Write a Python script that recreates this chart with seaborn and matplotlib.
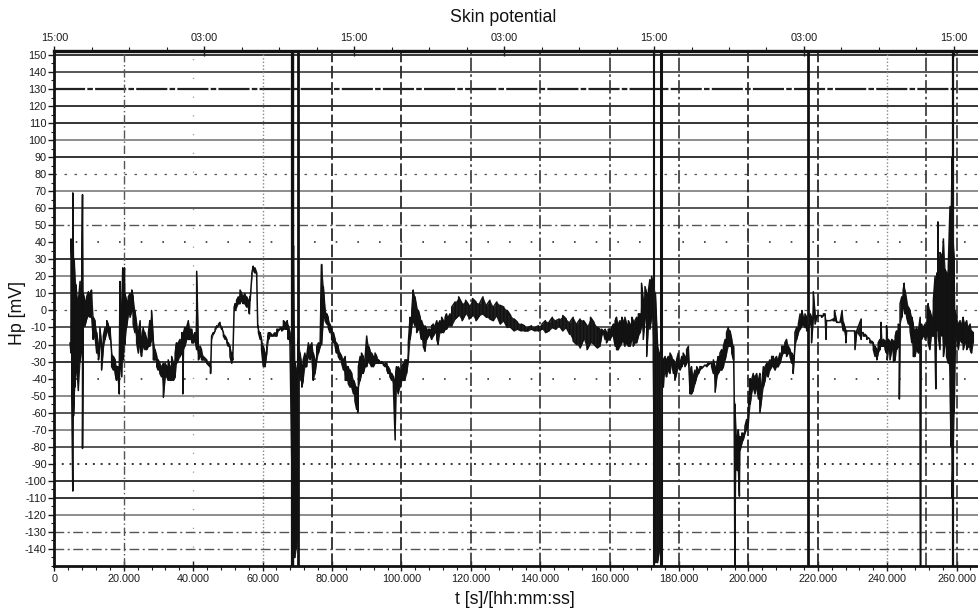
import numpy as np
import pandas as pd
import matplotlib
matplotlib.use("Agg")
import matplotlib.pyplot as plt
from matplotlib.ticker import MultipleLocator
import seaborn as sns

sns.set_style("white")
plt.rcParams["font.family"] = ["Liberation Sans", "DejaVu Sans"]

# Skin potential recording: sample time (ks) with the upper and lower
# excursion of the fast fluctuations around that time (mV)
t_ks = [
    4.5, 4.8, 5.0, 5.3, 5.5, 5.7, 5.9, 6.2, 6.4, 6.9,
    7.4, 7.9, 8.1, 8.3, 8.8, 9.3, 9.8, 10.3, 10.7, 11.2,
    11.7, 12.2, 12.7, 13.1, 13.6, 14.1, 14.6, 15.1, 15.5, 16.0,
    16.5, 17.0, 17.5, 17.9, 18.4, 18.7, 18.9, 19.4, 19.7, 19.9,
    20.2, 20.3, 20.8, 21.3, 21.8, 22.3, 22.7, 23.2, 23.7, 24.2,
    24.7, 25.1, 25.6, 26.1, 26.6, 27.1, 27.5, 28.0, 28.5, 29.0,
    29.5, 29.9, 30.4, 30.9, 31.4, 31.9, 32.4, 32.8, 33.3, 33.8,
    34.3, 34.8, 35.2, 35.7, 36.2, 36.7, 37.0, 37.2, 37.6, 38.1,
    38.6, 39.1, 39.6, 40.1, 40.5, 41.0, 41.5, 42.0, 42.4, 42.9,
    43.9, 44.8, 45.0, 45.3, 45.8, 46.3, 46.8, 47.3, 47.7, 48.2,
    48.7, 49.2, 49.7, 50.1, 50.6, 51.1, 51.4, 51.8, 52.1, 52.5,
    53.0, 53.5, 54.0, 54.4, 54.9, 55.4, 55.9, 56.2, 56.4, 56.9,
    57.3, 57.8, 58.3, 58.6, 58.8, 59.3, 59.7, 60.2, 60.7, 61.2,
    61.7, 62.1, 62.6, 63.1, 63.6, 64.1, 64.5, 65.0, 65.5, 66.0,
    66.5, 67.0, 67.1, 67.4, 67.9, 68.5, 68.9, 69.3, 69.7, 70.1,
    70.3, 70.8, 71.3, 71.7, 72.2, 72.7, 73.2, 73.7, 74.2, 74.6,
    75.1, 75.6, 76.1, 76.6, 77.0, 77.5, 78.0, 78.5, 78.9, 79.4,
    79.9, 80.4, 80.9, 81.3, 81.8, 82.3, 82.8, 83.3, 83.8, 84.2,
    84.7, 85.2, 85.7, 86.2, 86.6, 87.1, 87.4, 87.6, 88.1, 88.5,
    89.0, 89.5, 90.0, 90.5, 90.9, 91.4, 91.9, 92.4, 92.9, 93.4,
    93.8, 94.3, 94.8, 95.3, 95.8, 96.2, 96.7, 97.2, 97.7, 98.2,
    98.6, 99.1, 99.6, 100.1, 100.6, 101.0, 101.5, 102.0, 102.5, 103.0,
    103.4, 103.9, 104.4, 104.9, 105.4, 105.8, 106.3, 106.8, 107.3, 107.8,
    108.2, 108.7, 109.2, 109.7, 110.2, 110.6, 111.1, 111.6, 112.1, 112.6,
    113.0, 113.5, 114.0, 114.5, 115.5, 116.5, 117.5, 118.5, 119.5, 120.5,
    121.5, 122.5, 123.5, 124.5, 125.5, 126.5, 127.5, 128.5, 129.5, 130.5,
    131.5, 132.5, 133.5, 134.5, 135.5, 136.5, 137.5, 138.5, 139.5, 140.5,
    141.5, 142.5, 143.5, 144.5, 145.5, 146.5, 147.5, 148.5, 149.5, 150.5,
    151.5, 152.5, 153.5, 154.5, 155.5, 156.5, 157.2, 157.7, 158.2, 158.7,
    159.1, 159.6, 160.1, 160.6, 161.1, 161.6, 162.0, 162.5, 163.0, 163.5,
    163.9, 164.4, 164.9, 165.4, 165.9, 166.4, 166.8, 167.3, 167.8, 168.3,
    168.8, 169.2, 169.7, 170.2, 170.7, 171.2, 171.6, 172.1, 172.6, 173.2,
    173.8, 174.4, 175.0, 175.5, 176.0, 176.4, 176.9, 177.4, 177.9, 178.4,
    178.8, 179.3, 179.8, 180.3, 180.8, 181.2, 181.7, 182.2, 182.7, 183.2,
    183.6, 184.1, 184.6, 185.1, 185.6, 186.0, 186.5, 187.0, 187.5, 188.0,
    188.4, 188.9, 189.4, 189.9, 190.4, 190.9, 191.3, 191.8, 192.3, 192.8,
    193.3, 193.7, 194.2, 194.7, 195.2, 195.7, 195.9, 196.1, 196.4, 196.8,
    197.1, 197.4, 197.6, 198.1, 198.5, 199.0, 199.5, 200.0, 200.5, 200.9,
    201.4, 201.9, 202.4, 202.9, 203.3, 203.8, 204.3, 204.8, 205.3, 205.7,
    206.2, 206.7, 207.2, 207.7, 208.1, 208.6, 209.1, 209.6, 210.1, 210.5,
    211.0, 211.5, 212.0, 212.5, 212.9, 213.4, 213.9, 214.4, 214.9, 215.4,
    215.8, 216.3, 216.8, 217.8, 218.2, 218.7, 219.2, 219.7, 220.2, 220.6,
    221.1, 221.6, 222.1, 222.4, 222.6, 223.5, 224.5, 224.8, 225.4, 226.4,
    227.0, 227.4, 228.1, 228.3, 229.3, 230.2, 230.7, 231.2, 232.5, 232.6,
    233.1, 233.6, 234.1, 234.6, 235.0, 235.5, 236.0, 236.5, 237.0, 237.4,
    237.9, 238.2, 238.4, 238.9, 239.4, 239.8, 240.0, 240.3, 240.8, 241.3,
    241.8, 242.3, 242.7, 243.2, 243.5, 243.7, 244.2, 244.6, 244.9, 245.1,
    245.6, 246.1, 246.6, 247.1, 247.5, 248.0, 248.5, 249.0, 249.5, 249.6,
    249.9, 250.4, 250.9, 251.4, 251.8, 252.3, 252.8, 253.3, 253.8, 254.0,
    254.3, 254.6, 254.7, 255.2, 255.5, 255.7, 256.2, 256.7, 257.1, 257.6,
    258.1, 258.4, 258.7, 259.0, 259.3, 259.5, 260.0, 260.5, 261.0, 261.5,
    261.9, 262.4, 262.9, 263.4, 263.9, 264.3, 264.8,
]
v_hi = [
    -19, 42, 30, 69, 25, 30, 20, 15, 10, 5,
    17, 24, 68, 10, 6, 8, 11, 10, 12, -4,
    -6, -13, -21, -10, -20, -15, -10, -6, -8, -10,
    -25, -27, -29, -33, -33, -35, 17, 0, 25, 16,
    25, 10, 6, 8, 10, 12, 8, 0, -8, -13,
    -6, -17, -10, -13, -17, -13, -6, 0, -17, -23,
    -27, -29, -31, -33, -31, -31, -33, -29, -33, -27,
    -31, -25, -19, -19, -17, -13, -15, -13, -10, -10,
    -6, -11, -11, -15, -13, 23, -23, -21, -23, -27,
    -29, -31, -33, -15, -13, -11, -9, -8, -7, -10,
    -13, -15, -17, -19, -21, -25, -29, 2, 4, 6,
    8, 12, 10, 8, 10, 8, 6, 0, 8, 22,
    26, 25, 22, -9, -11, -13, -17, -21, -25, -21,
    -13, -13, -14, -14, -13, -11, -11, -10, -10, -6,
    -7, -9, -6, -9, -13, -20, 38, -30, -35, -30,
    -17, -25, -33, -29, -25, -27, -19, -21, -19, -25,
    -29, -21, -19, -17, 27, 14, 0, -2, -4, -8,
    -11, -13, -17, -19, -21, -25, -27, -29, -27, -33,
    -33, -35, -37, -41, -43, -45, -48, -33, -27, -25,
    -27, -29, -15, -21, -23, -25, -27, -25, -27, -29,
    -30, -30, -31, -31, -31, -33, -35, -37, -39, -41,
    -33, -33, -35, -33, -31, -29, -29, -19, -4, 0,
    12, 8, 2, 0, -4, -6, -9, -9, -11, -11,
    -11, -9, -8, -9, -6, -8, -6, -4, -6, -4,
    -2, -4, -2, 2, 5, 8, 4, 6, 3, 7,
    5, 4, 8, 3, 6, 2, 5, 3, 2, 0,
    -3, -5, -7, -8, -9, -10, -9, -10, -9, -8,
    -6, -7, -4, -6, -5, -3, -5, -7, -4, -8,
    -5, -6, -9, -4, -7, -10, -11, -11, -12, -11,
    -13, -11, -11, -10, -8, -6, -4, -8, -6, -4,
    -6, -4, -8, -6, -8, -4, -6, -6, -4, -2,
    -2, 16, 6, 14, 10, 12, 18, 20, 15, 10,
    -20, -25, -25, -29, -27, -29, -27, -25, -27, -29,
    -31, -29, -25, -31, -27, -25, -27, -23, -21, -37,
    -33, -39, -35, -33, -35, -33, -33, -33, -32, -32,
    -31, -31, -31, -29, -33, -31, -27, -25, -23, -21,
    -17, -13, -10, -12, -17, -21, -50, -55, -72, -75,
    -70, -75, -74, -72, -72, -68, -64, -58, -40, -41,
    -37, -39, -37, -41, -37, -45, -33, -33, -31, -31,
    -29, -27, -27, -29, -27, -29, -25, -21, -21, -19,
    -17, -21, -23, -25, -27, -13, -10, -8, -2, 0,
    -4, -2, -4, -2, -4, 11, -2, -3, -3, -3,
    -3, -2, -2, -6, -6, -6, -5, 0, -6, -7,
    0, -7, -12, -12, -12, -12, -12, -12, -5, -13,
    -13, -14, -15, -16, -17, -18, -19, -21, -23, -19,
    -17, -7, -17, -17, -18, -9, -15, -17, -18, -17,
    -18, -15, -12, -8, -10, 4, 8, 12, 16, 12,
    6, 2, 0, -4, -8, -12, -10, -12, -4, -20,
    -8, -10, -8, -8, 4, 0, -4, 6, 20, 0,
    22, 52, 30, 34, 33, 22, 42, 24, 22, 26,
    61, 45, 90, 40, 30, 0, -4, -8, -6, -8,
    -4, -8, -6, -10, -8, -12, -13,
]
v_lo = [
    -19, -25, -50, -106, -62, -52, -45, -35, -30, -47,
    -30, -20, -81, -10, -9, -5, -3, -4, -2, -17,
    -15, -25, -29, -20, -35, -22, -17, -12, -13, -17,
    -33, -35, -37, -41, -39, -49, -30, -39, -25, -29,
    -15, -20, -10, -2, -4, 0, -8, -13, -19, -25,
    -19, -27, -21, -23, -23, -21, -21, -17, -29, -29,
    -33, -35, -37, -39, -51, -39, -39, -41, -41, -41,
    -41, -39, -31, -29, -27, -25, -49, -23, -21, -17,
    -17, -17, -19, -19, -17, -23, -29, -27, -29, -29,
    -31, -33, -37, -17, -14, -12, -10, -9, -8, -11,
    -15, -17, -19, -21, -27, -31, -29, 0, 0, 2,
    4, 4, 6, 4, 4, 2, 2, -2, 6, 20,
    24, 22, 20, -10, -13, -17, -23, -33, -33, -25,
    -17, -15, -15, -15, -15, -15, -12, -11, -12, -11,
    -11, -11, -6, -17, -21, -100, -145, -145, -140, -130,
    -33, -41, -45, -41, -33, -33, -27, -29, -27, -41,
    -37, -29, -25, -21, -20, -4, -6, -8, -10, -13,
    -17, -19, -21, -25, -27, -29, -31, -35, -41, -41,
    -43, -45, -45, -49, -53, -58, -60, -45, -41, -37,
    -37, -33, -33, -29, -31, -33, -33, -31, -31, -31,
    -31, -31, -32, -33, -35, -37, -39, -41, -45, -76,
    -45, -49, -45, -41, -41, -41, -37, -29, -17, -9,
    -6, -9, -13, -11, -13, -17, -21, -24, -17, -15,
    -14, -17, -15, -13, -17, -20, -13, -13, -13, -11,
    -11, -9, -9, -9, -5, -3, -6, -2, -5, -3,
    -6, -3, -2, -4, -5, -6, -3, -8, -6, -10,
    -10, -12, -11, -12, -12, -12, -11, -12, -12, -11,
    -13, -12, -10, -11, -9, -12, -10, -14, -18, -20,
    -22, -17, -23, -19, -20, -22, -21, -15, -13, -17,
    -19, -17, -17, -15, -15, -21, -23, -23, -21, -19,
    -17, -21, -19, -21, -21, -17, -21, -19, -19, -15,
    -13, -9, -17, -4, -27, -6, -11, -4, -30, -148,
    -148, -140, -41, -45, -33, -39, -35, -37, -31, -37,
    -41, -37, -33, -35, -33, -31, -33, -31, -27, -49,
    -49, -47, -43, -39, -37, -35, -34, -33, -32, -33,
    -32, -31, -33, -37, -48, -39, -37, -35, -35, -33,
    -29, -25, -21, -21, -25, -29, -60, -150, -90, -94,
    -92, -109, -82, -78, -76, -72, -70, -66, -55, -49,
    -45, -49, -45, -52, -60, -52, -45, -41, -37, -39,
    -35, -33, -33, -35, -33, -33, -31, -27, -25, -25,
    -27, -25, -27, -31, -37, -21, -17, -13, -11, -9,
    -8, -10, -12, -8, -19, -4, -8, -4, -3, -3,
    -4, -3, -3, -17, -6, -6, -6, -6, -7, -7,
    -8, -12, -19, -12, -12, -12, -23, -13, -17, -13,
    -15, -15, -17, -16, -19, -19, -23, -27, -29, -25,
    -23, -19, -21, -21, -23, -25, -29, -23, -29, -23,
    -30, -29, -23, -21, -52, -8, -4, 2, 4, -2,
    -4, -8, -12, -19, -27, -27, -23, -25, -19, -150,
    -17, -15, -17, -15, -19, -23, -15, -15, -23, -46,
    -12, -5, -15, -23, -5, -15, -27, -19, -27, -31,
    -43, -80, -110, -85, -60, -31, -15, -23, -17, -19,
    -23, -19, -23, -21, -23, -25, -19,
]
assert len(t_ks) == len(v_hi) == len(v_lo)

# event markers drawn as solid verticals (s)
event_marks_s = [68400, 68900, 70100, 172400, 172900, 174700, 217300, 259000]
event_mark_lw = [1.6, 1.0, 2.0, 0.8, 0.8, 2.2, 2.0, 1.6]
extra_marks_s = [251200]

x_ticks_s = list(range(0, 260001, 20000))
x_tick_labels = ["0", "20.000", "40.000", "60.000", "80.000", "100.000", "120.000",
                 "140.000", "160.000", "180.000", "200.000", "220.000", "240.000", "260.000"]
y_ticks = list(range(-140, 151, 10))
clock_ticks_s = list(range(0, 259201, 43200))
clock_labels = ["15:00", "03:00", "15:00", "03:00", "15:00", "03:00", "15:00"]

# trace: at every sample go through both excursions, alternating the order
tt, vv = [], []
for i, (t, hi, lo) in enumerate(zip(t_ks, v_hi, v_lo)):
    pair = (hi, lo) if i % 2 == 0 else (lo, hi)
    for v in pair:
        tt.append(t * 1000.0)
        vv.append(v)
trace = pd.DataFrame({"t": tt, "Hp": vv})
t_s = np.asarray(t_ks) * 1000.0

W, H = 979, 610
fig = plt.figure(figsize=(W / 100, H / 100), dpi=100)
x0, x1, ytop, ybot = 54.4, 979, 51, 566
ax = fig.add_axes([x0 / W, 1 - ybot / H, (x1 - x0) / W, (ybot - ytop) / H])
ax.set_xlim(0, 266450)
ax.set_ylim(-150, 152.3)

line_styles = {
    "S": dict(color="#1c1c1c", ls="-", lw=1.25),
    "D": dict(color="#3a3a3a", ls="-", lw=1.2),
    "G": dict(color="#858585", ls="-", lw=1.3),
    "DD": dict(color="#202020", ls=(0, (14, 1, 2.5, 1)), lw=1.6),
    "DG": dict(color="#555555", ls=(0, (7, 2.5, 1.5, 2.5)), lw=1.0),
    "P": dict(color="#333333", ls=(0, (1, 12)), lw=1.2),
    "PD": dict(color="#555555", ls=(0, (2, 6)), lw=0.9),
    "PP": dict(color="#333333", ls=(0, (1, 3)), lw=1.4),
}
hgrid = {150: "S", 140: "D", 130: "DD", 120: "S", 110: "S", 100: "G", 90: "S",
         80: "PD", 70: "G", 60: "D", 50: "DG", 40: "P", 30: "S", 20: "G", 10: "D",
         0: "PD", -10: "D", -20: "G", -30: "S", -40: "P", -50: "G", -60: "D",
         -70: "G", -80: "D", -90: "PP", -100: "S", -110: "S", -120: "G",
         -130: "DG", -140: "DG"}
for y in y_ticks:
    ax.axhline(y, zorder=1, **line_styles[hgrid[y]])

v_styles = {
    "VDG": dict(color="#555555", ls=(0, (6, 2, 1, 2)), lw=1.0),
    "VF": dict(color="#999999", ls=(0, (1, 14)), lw=0.9),
    "VP": dict(color="#888888", ls=(0, (1, 1.5)), lw=1.0),
    "VD": dict(color="#2a2a2a", ls=(0, (7, 2)), lw=1.3),
    "VDD": dict(color="#333333", ls=(0, (8, 2, 1.5, 2)), lw=1.2),
}
vgrid = {20000: "VDG", 40000: "VF", 60000: "VP", 80000: "VD", 100000: "VD",
         120000: "VDD", 140000: "VDD", 160000: "VDD", 180000: "VDD",
         200000: "VD", 220000: "VD", 240000: "VP", 260000: "VDD"}
for x in x_ticks_s[1:]:
    ax.axvline(x, zorder=1, **v_styles[vgrid[x]])
for x in extra_marks_s:
    ax.axvline(x, zorder=1, **v_styles["VDD"])
for x, lw in zip(event_marks_s, event_mark_lw):
    ax.axvline(x, color="#111111", lw=lw, zorder=2)

# dense fluctuation band between the excursions, then the trace itself
ax.fill_between(t_s, v_lo, v_hi, color="#1e1e1e", lw=0, zorder=3)
sns.lineplot(data=trace, x="t", y="Hp", sort=False, estimator=None,
             color="#111111", lw=1.1, ax=ax, zorder=4, legend=False)

ax.set_xlabel("")
ax.set_ylabel("")
ax.set_xticks(x_ticks_s)
ax.set_xticklabels(x_tick_labels)
ax.xaxis.set_minor_locator(MultipleLocator(4000))
ax.set_yticks(y_ticks)
ax.set_yticklabels([str(v) for v in y_ticks])
ax.yaxis.set_minor_locator(MultipleLocator(5))
ax.tick_params(axis="x", which="major", bottom=True, direction="inout", length=7,
               width=1.0, labelsize=7.8, pad=2, colors="#1a1a1a")
ax.tick_params(axis="x", which="minor", bottom=True, direction="out", length=3,
               width=0.8, colors="#1a1a1a")
ax.tick_params(axis="y", which="major", left=True, direction="out", length=4.5,
               width=1.0, labelsize=7.8, pad=1, colors="#1a1a1a")
ax.tick_params(axis="y", which="minor", left=True, direction="out", length=2,
               width=0.8, colors="#1a1a1a")

for side in ("left", "bottom"):
    ax.spines[side].set_linewidth(2.0)
    ax.spines[side].set_color("#111111")
ax.spines["top"].set_linewidth(2.4)
ax.spines["top"].set_color("#111111")
ax.spines["right"].set_visible(False)

ax2 = ax.twiny()
ax2.set_xlim(ax.get_xlim())
ax2.set_xticks(clock_ticks_s)
ax2.set_xticklabels(clock_labels)
ax2.xaxis.set_minor_locator(MultipleLocator(10800))
ax2.tick_params(axis="x", which="major", top=True, direction="inout", length=7,
                width=1.0, labelsize=7.8, pad=2, colors="#1a1a1a")
ax2.tick_params(axis="x", which="minor", top=True, direction="out", length=3,
                width=0.8, colors="#1a1a1a")
for s in ax2.spines.values():
    s.set_visible(False)

fig.text(503 / W, 1 - 17 / H, "Skin potential", ha="center", va="center",
         fontsize=12.8, color="#111111")
fig.text(515 / W, 1 - 599 / H, "t [s]/[hh:mm:ss]", ha="center", va="center",
         fontsize=12.8, color="#111111")
fig.text(18 / W, 1 - 313 / H, "Hp [mV]", ha="center", va="center", rotation=90,
         fontsize=12.8, color="#111111")

fig.savefig("out.png", dpi=100)
